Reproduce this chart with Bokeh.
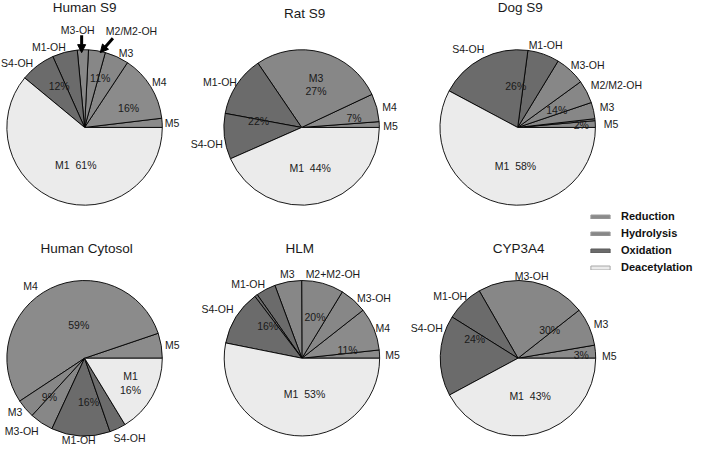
import math
from bokeh.plotting import figure
from bokeh.models import ColumnDataSource, Range1d, Legend, LegendItem, Arrow, NormalHead
from bokeh.embed import file_html
from bokeh.resources import INLINE
from bokeh.core.properties import value

# ---------------- data (percent of total, counter-clockwise from 3 o'clock) -------------
panel_titles = ["Human S9", "Rat S9", "Dog S9", "Human Cytosol", "HLM", "CYP3A4"]

hs9_metabolites = ["M5", "M4", "M3", "M2/M2-OH", "M3-OH", "M1-OH", "S4-OH", "M1"]
hs9_values = [1.9, 13.8, 5.0, 3.5, 2.3, 5.2, 7.3, 61.0]

rat_metabolites = ["M5", "M4", "M3", "M1-OH", "S4-OH", "M1"]
rat_values = [1.2, 5.8, 27.5, 12.6, 9.5, 43.4]

dog_metabolites = ["M5", "M4", "M3", "M2/M2-OH", "M3-OH", "M1-OH", "S4-OH", "M1"]
dog_values = [1.4, 0.4, 3.4, 4.8, 6.3, 6.6, 19.3, 57.8]

cyt_metabolites = ["M5", "M4", "M3", "M3-OH", "M1-OH", "S4-OH", "M1"]
cyt_values = [5.2, 54.1, 3.9, 4.9, 12.2, 3.4, 16.3]

hlm_metabolites = ["M5", "M4", "M3-OH", "M2+M2-OH", "M3", "M1-OH", "M1-OH (minor)", "S4-OH", "M1"]
hlm_values = [1.7, 8.9, 5.7, 8.75, 5.6, 4.1, 0.6, 11.5, 53.15]

cyp_metabolites = ["M5", "M3", "M3-OH", "M1-OH", "S4-OH", "M1"]
cyp_values = [2.7, 7.9, 22.7, 7.8, 16.75, 42.15]

# printed group percentages in each panel
hs9_pct = ["16%", "11%", "12%", "M1  61%"]
rat_pct = ["7%", "22%", "M1  44%"]
dog_pct = ["2%", "14%", "26%", "M1  58%"]
cyt_pct = ["59%", "9%", "16%", "M1", "16%"]
hlm_pct = ["11%", "20%", "16%", "M1  53%"]
cyp_pct = ["3%", "30%", "24%", "M1  43%"]

# slice labels shown outside the pies
hs9_names = ["M5", "M4", "M3", "M2/M2-OH", "M3-OH", "M1-OH", "S4-OH"]
rat_names = ["M3", "27%", "M4", "M5", "M1-OH", "S4-OH"]
dog_names = ["S4-OH", "M1-OH", "M3-OH", "M2/M2-OH", "M3", "M5"]
cyt_names = ["M4", "M5", "M3", "M3-OH", "M1-OH", "S4-OH"]
hlm_names = ["M3", "M2+M2-OH", "M1-OH", "S4-OH", "M3-OH", "M4", "M5"]
cyp_names = ["M3-OH", "M1-OH", "S4-OH", "M3", "M5"]

legend_labels = ["Reduction", "Hydrolysis", "Oxidation", "Deacetylation"]
metabolite_group = {
    "M5": "Reduction", "M4": "Reduction",
    "M3": "Hydrolysis", "M2/M2-OH": "Hydrolysis", "M2+M2-OH": "Hydrolysis", "M3-OH": "Hydrolysis",
    "M1-OH": "Oxidation", "M1-OH (minor)": "Oxidation", "S4-OH": "Oxidation",
    "M1": "Deacetylation",
}

# ---------------- layout / style -------------
W, H = 716, 464           # reference pixel space
group_colors = {"Reduction": "#8b8b8b", "Hydrolysis": "#878787",
                "Oxidation": "#6b6b6b", "Deacetylation": "#ebebeb"}
legend_line = {"Reduction": "#9a9a9a", "Hydrolysis": "#9a9a9a",
               "Oxidation": "#5a5a5a", "Deacetylation": "#a8a8a8"}
R = 79.5
centers = [(86, 131.5), (308, 131.5), (529, 131.5), (86, 370.5), (308.3, 370.5), (529.3, 370.5)]
title_pos = [(86, 7), (311, 13), (531.7, 7), (88, 257), (306, 257), (530, 257)]
FONT = "Liberation Sans"

pct_pos = [
    [(131, 111), (102, 80), (60, 89), (77, 170)],
    [(361.7, 122), (264, 125), (316.7, 173)],
    [(594, 129), (569, 113), (527, 89), (526.7, 171)],
    [(80, 336), (50, 411), (90, 416), (133, 389), (133, 403)],
    [(355, 361.7), (321.7, 328.3), (273.3, 337.3), (311, 407.7)],
    [(594, 366.7), (561.7, 341), (485, 351), (541.7, 410)],
]
name_pos = [
    [(175.5, 127), (162.5, 84), (128.5, 54), (134, 32), (79, 31), (49.5, 48), (17, 65)],
    [(322.7, 80), (322.7, 94), (398, 110), (399, 130), (224.5, 84), (211, 149)],
    [(478.5, 50), (557.5, 46), (600.5, 67), (630, 88), (620.5, 110), (624.5, 128)],
    [(30.7, 296), (175.7, 356.7), (15, 426.7), (21.7, 445.7), (80, 455.5), (132, 453)],
    [(293.3, 283.3), (340, 283.3), (253.3, 293.3), (222, 319), (382, 307.7), (391, 339), (401, 367)],
    [(543.3, 285.7), (460, 305.7), (436, 339), (614.3, 335), (622.7, 367.7)],
]
arrows_ref = [((83, 36), (83, 54)), ((115, 39), (102, 54))]

all_mets = [hs9_metabolites, rat_metabolites, dog_metabolites, cyt_metabolites, hlm_metabolites, cyp_metabolites]
all_vals = [hs9_values, rat_values, dog_values, cyt_values, hlm_values, cyp_values]
all_pct = [hs9_pct, rat_pct, dog_pct, cyt_pct, hlm_pct, cyp_pct]
all_names = [hs9_names, rat_names, dog_names, cyt_names, hlm_names, cyp_names]

def fy(y):
    return H - y

# ---------------- figure -------------
p = figure(width=700, height=448, output_backend="svg", toolbar_location=None,
           x_range=Range1d(0, W), y_range=Range1d(0, H), min_border=0)
p.axis.visible = False
p.grid.visible = False
p.outline_line_color = None

wedge = dict(cx=[], cy=[], start=[], end=[], color=[], name=[])
for (cx, cy), mets, vals in zip(centers, all_mets, all_vals):
    total = sum(vals)
    cum = 0.0
    for m, v in zip(mets, vals):
        wedge["cx"].append(cx)
        wedge["cy"].append(fy(cy))
        wedge["start"].append(2 * math.pi * cum / total)
        cum += v
        wedge["end"].append(2 * math.pi * cum / total)
        wedge["color"].append(group_colors[metabolite_group[m]])
        wedge["name"].append(m)
p.wedge(x="cx", y="cy", radius=R, start_angle="start", end_angle="end",
        fill_color="color", line_color="black", line_width=0.9,
        source=ColumnDataSource(wedge))

# labels
lab = dict(x=[], y=[], text=[])
for texts, pos in list(zip(all_pct, pct_pos)) + list(zip(all_names, name_pos)):
    for t, (x, y) in zip(texts, pos):
        lab["x"].append(x)
        lab["y"].append(fy(y))
        lab["text"].append(t.replace("  ", "\u00a0\u00a0"))
p.text(x="x", y="y", text="text", source=ColumnDataSource(lab),
       text_font=value(FONT), text_font_size="10.5px", text_color="#1a1a1a",
       text_align="center", text_baseline="middle")

tit = dict(x=[x for x, _ in title_pos], y=[fy(y) for _, y in title_pos], text=panel_titles)
p.text(x="x", y="y", text="text", source=ColumnDataSource(tit),
       text_font=value(FONT), text_font_size="13.5px", text_color="#1a1a1a",
       text_align="center", text_baseline="middle")

for (x0, y0), (x1, y1) in arrows_ref:
    p.add_layout(Arrow(end=NormalHead(size=8, fill_color="black", line_color="black"),
                       x_start=x0, y_start=fy(y0), x_end=x1, y_end=fy(y1),
                       line_width=3, line_color="black"))

# legend swatches (proxy renderers placed outside the visible range)
items = []
for g in legend_labels:
    r = p.rect(x=[-1000], y=[-1000], width=1, height=1,
               fill_color=group_colors[g], line_color=legend_line[g])
    items.append(LegendItem(label=g, renderers=[r]))
legend = Legend(items=items, location=(588, 175), glyph_width=24, glyph_height=5,
                label_height=12, spacing=5, padding=0, margin=0, label_standoff=9,
                label_text_font=FONT, label_text_font_size="11px",
                label_text_font_style="bold", label_text_color="#111111",
                border_line_color=None, background_fill_alpha=0)
p.add_layout(legend, "center")

open("out.html", "w").write(file_html(p, INLINE))
